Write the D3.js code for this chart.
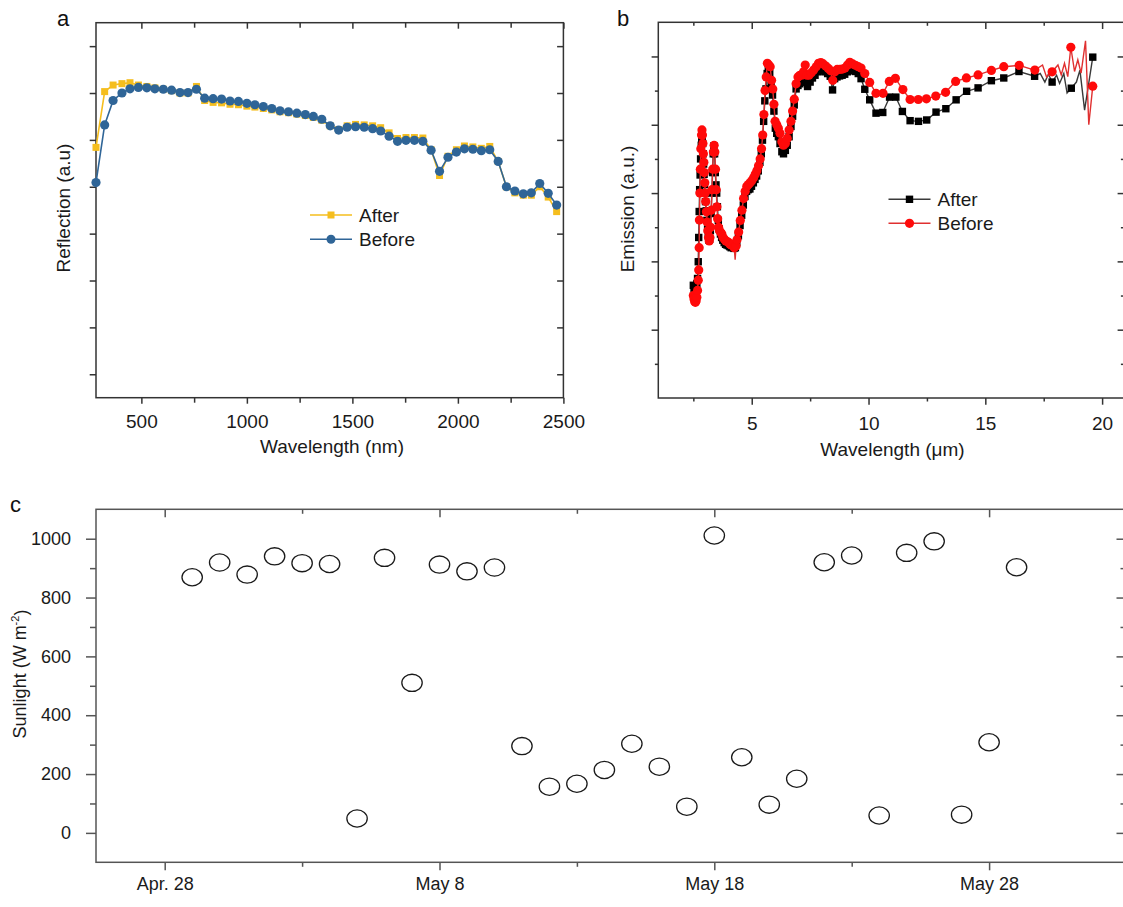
<!DOCTYPE html>
<html>
<head>
<meta charset="utf-8">
<script src="https://cdn.jsdelivr.net/npm/d3@7"></script>
<style>
  body { margin: 0; background: #fff; }
</style>
</head>
<body>
<svg id="fig" width="1123" height="907"></svg>
<script>
// ---- panel a : reflection ----
const reflWl = [285, 326, 366, 408, 446, 486, 526, 564, 604, 643, 683, 721, 761, 800, 840, 880, 920, 960, 1000, 1038,
  1078, 1118, 1157, 1197, 1237, 1277, 1315, 1355, 1395, 1435, 1475, 1515, 1556, 1596, 1634, 1674, 1714, 1754, 1794, 1834,
  1873, 1913, 1953, 1993, 2031, 2071, 2111, 2151, 2191, 2230, 2270, 2310, 2348, 2388, 2428, 2468];
const reflBefore = [45.9, 58.2, 63.4, 65.0, 65.9, 66.2, 66.1, 65.9, 65.8, 65.6, 65.1, 65.1, 65.8, 63.9, 63.8, 63.7, 63.3, 63.2, 62.8, 62.5,
  62.1, 61.7, 61.2, 61.0, 60.7, 60.4, 60.0, 59.4, 58.0, 57.1, 57.7, 57.8, 57.7, 57.4, 56.9, 55.8, 54.7, 54.9, 54.9, 54.7,
  52.8, 48.3, 51.3, 52.4, 53.1, 53.0, 52.7, 52.9, 50.4, 45.0, 44.1, 43.5, 43.7, 45.7, 43.6, 41.1];
const reflAfter = [53.4, 65.3, 66.7, 67.0, 67.2, 66.7, 66.4, 66.1, 65.8, 65.5, 65.0, 65.0, 66.4, 63.4, 63.0, 62.9, 62.6, 62.5, 62.2, 62.0,
  61.7, 61.4, 61.0, 60.8, 60.5, 60.2, 59.8, 59.2, 58.0, 57.2, 58.0, 58.3, 58.2, 58.0, 57.6, 56.5, 55.3, 55.5, 55.5, 55.4,
  52.9, 47.4, 51.5, 52.9, 53.7, 53.5, 53.2, 53.6, 50.4, 45.0, 43.7, 43.2, 43.2, 45.0, 42.8, 39.7];
const reflXTicks = [500, 1000, 1500, 2000, 2500];
const reflXMinor = [750, 1250, 1750, 2250];
const reflYTicks = [5, 15, 25, 35, 45, 55, 65, 75];

// ---- panel b : emission, [wavelength um, value] ----
const emisBefore = [[2.50,0.300],[2.53,0.290],[2.56,0.282],[2.59,0.280],[2.62,0.285],[2.65,0.295],[2.68,0.315],[2.71,0.345],
  [2.73,0.375],[2.75,0.440],[2.76,0.521],[2.78,0.600],[2.80,0.670],[2.82,0.730],[2.85,0.770],[2.87,0.785],[2.89,0.770],
  [2.91,0.745],[2.93,0.715],[2.95,0.690],[2.97,0.660],[2.99,0.630],[3.01,0.600],[3.03,0.575],[3.06,0.545],[3.09,0.515],
  [3.12,0.490],[3.15,0.470],[3.18,0.460],[3.21,0.470],[3.24,0.500],[3.27,0.550],[3.30,0.610],[3.33,0.670],[3.36,0.720],
  [3.39,0.740],[3.42,0.720],[3.45,0.670],[3.48,0.610],[3.51,0.560],[3.54,0.525],[3.58,0.500],[3.62,0.490],[3.67,0.485],
  [3.72,0.480],[3.77,0.470],[3.83,0.465],[3.89,0.460],[3.95,0.458],[4.01,0.455],[4.07,0.450],[4.13,0.448],[4.19,0.450],
  [4.25,0.440],[4.33,0.445],[4.37,0.463],[4.44,0.486],[4.51,0.520],[4.58,0.550],[4.65,0.584],[4.72,0.605],[4.79,0.620],
  [4.86,0.625],[4.93,0.630],[5.00,0.636],[5.08,0.645],[5.15,0.655],[5.22,0.665],[5.29,0.680],[5.36,0.700],[5.42,0.730],
  [5.47,0.770],[5.52,0.830],[5.57,0.900],[5.62,0.940],[5.67,0.980],[5.73,0.975],[5.79,0.970],[5.85,0.930],[5.90,0.905],
  [5.95,0.860],[6.00,0.810],[6.07,0.800],[6.14,0.790],[6.21,0.775],[6.29,0.750],[6.36,0.740],[6.44,0.745],[6.52,0.760],
  [6.60,0.785],[6.68,0.810],[6.75,0.840],[6.82,0.875],[6.90,0.920],[6.98,0.940],[7.06,0.945],[7.14,0.945],[7.22,0.955],
  [7.29,0.975],[7.36,0.945],[7.45,0.945],[7.55,0.952],[7.65,0.960],[7.76,0.970],[7.86,0.980],[7.96,0.982],[8.06,0.978],
  [8.17,0.972],[8.28,0.965],[8.38,0.958],[8.47,0.930],[8.56,0.955],[8.66,0.962],[8.77,0.962],[8.88,0.963],[8.99,0.966],
  [9.10,0.975],[9.20,0.983],[9.32,0.978],[9.44,0.974],[9.56,0.970],[9.68,0.966],[9.84,0.950],[10.05,0.924],[10.32,0.892],
  [10.62,0.892],[10.89,0.927],[11.15,0.936],[11.47,0.903],[11.78,0.874],[12.13,0.874],[12.48,0.876],[12.88,0.884],
  [13.30,0.895],[13.73,0.927],[14.19,0.937],[14.69,0.946],[15.26,0.959],[15.79,0.970],[16.45,0.974],[17.12,0.960],
  [17.86,0.955],[18.66,1.027],[19.60,0.913]];
// points of the Before trace that carry no marker
const emisBeforeLine = [[4.29,0.405],[17.45,0.975],[17.62,0.940],[18.11,0.975],[18.25,0.946],[18.39,0.980],[18.53,0.941],
  [18.82,0.956],[18.96,0.990],[19.10,0.951],[19.29,1.046],[19.43,0.800]];

const emisAfter = [[2.50,0.330],[2.53,0.320],[2.56,0.315],[2.59,0.318],[2.62,0.325],[2.65,0.335],[2.68,0.350],[2.71,0.399],
  [2.73,0.470],[2.75,0.546],[2.77,0.610],[2.79,0.653],[2.81,0.700],[2.84,0.740],[2.86,0.760],[2.88,0.765],[2.90,0.745],
  [2.92,0.715],[2.94,0.685],[2.96,0.655],[2.98,0.625],[3.00,0.600],[3.02,0.575],[3.05,0.548],[3.08,0.520],[3.11,0.495],
  [3.14,0.475],[3.17,0.462],[3.20,0.465],[3.23,0.490],[3.26,0.540],[3.29,0.600],[3.32,0.660],[3.35,0.715],[3.38,0.738],
  [3.41,0.715],[3.44,0.660],[3.47,0.624],[3.50,0.600],[3.53,0.560],[3.57,0.520],[3.61,0.495],[3.66,0.480],[3.71,0.470],
  [3.76,0.462],[3.82,0.455],[3.88,0.450],[3.94,0.448],[4.00,0.446],[4.06,0.443],[4.12,0.440],[4.18,0.442],[4.24,0.438],
  [4.30,0.440],[4.36,0.455],[4.43,0.475],[4.50,0.505],[4.57,0.535],[4.64,0.565],[4.71,0.590],[4.78,0.605],[4.85,0.610],
  [4.92,0.612],[4.99,0.620],[5.07,0.630],[5.14,0.640],[5.21,0.650],[5.28,0.665],[5.35,0.690],[5.41,0.715],[5.46,0.755],
  [5.51,0.810],[5.56,0.870],[5.61,0.905],[5.66,0.950],[5.71,0.960],[5.77,0.950],[5.83,0.915],[5.89,0.887],[5.95,0.840],
  [6.01,0.790],[6.07,0.775],[6.14,0.765],[6.21,0.745],[6.29,0.721],[6.36,0.715],[6.44,0.725],[6.52,0.740],[6.60,0.765],
  [6.68,0.795],[6.75,0.825],[6.82,0.858],[6.90,0.905],[6.98,0.915],[7.06,0.920],[7.14,0.925],[7.22,0.932],[7.30,0.925],
  [7.39,0.912],[7.50,0.925],[7.60,0.937],[7.71,0.945],[7.82,0.955],[7.92,0.958],[8.03,0.958],[8.14,0.955],[8.25,0.950],
  [8.36,0.942],[8.46,0.902],[8.55,0.935],[8.65,0.940],[8.76,0.943],[8.87,0.945],[8.98,0.948],[9.09,0.955],[9.20,0.960],
  [9.32,0.958],[9.44,0.956],[9.56,0.950],[9.68,0.935],[9.84,0.904],[10.05,0.873],[10.32,0.834],[10.61,0.836],[10.90,0.881],
  [11.17,0.881],[11.45,0.839],[11.78,0.812],[12.14,0.810],[12.49,0.814],[12.89,0.837],[13.31,0.847],[13.75,0.873],
  [14.20,0.898],[14.69,0.908],[15.26,0.929],[15.79,0.937],[16.44,0.956],[17.11,0.942],[17.86,0.925],[18.68,0.907],
  [19.60,0.998]];
const emisAfterLine = [[17.35,0.950],[17.55,0.925],[17.70,0.948],[18.05,0.945],[18.18,0.921],[18.36,0.950],[18.50,0.893],
  [18.90,0.925],[19.05,0.960],[19.25,0.843]];
const emisXTicks = [5, 10, 15, 20];
const emisXMinor = [2.5, 7.5, 12.5, 17.5];
const emisYTicks = [0.2, 0.4, 0.6, 0.8, 1.0];
const emisYMinor = [0.1, 0.3, 0.5, 0.7, 0.9];

// ---- panel c : sunlight, day counted from Apr. 28 ----
const sunDay = [1, 2, 3, 4, 5, 6, 7, 8, 9, 10, 11, 12, 13, 14, 15, 16, 17, 18, 19, 20, 21, 22, 23, 24, 25, 26, 27, 28, 29, 30, 31];
const sunValue = [869, 919, 878, 940, 917, 914, 49, 935, 510, 912, 889, 902, 295, 157, 167, 214, 303, 225, 89, 1011,
  257, 96, 184, 920, 943, 59, 952, 991, 62, 308, 903];
const sunXTicks = [0, 10, 20, 30];
const sunXLabels = ["Apr. 28", "May 8", "May 18", "May 28"];
const sunXMinor = [5, 15, 25];
const sunYTicks = [0, 200, 400, 600, 800, 1000];
const sunYMinor = [100, 300, 500, 700, 900];

const font = '"Liberation Sans", Arial, Helvetica, sans-serif';
const svg = d3.select("#fig");
svg.append("rect").attr("width", 1123).attr("height", 907).attr("fill", "#fff");

function frame(g, x, y, c) {
  const [x0, x1] = x.range(), [y0, y1] = y.range();
  const add = (axis, tx, ty) => g.append("g")
    .attr("transform", `translate(${tx},${ty})`)
    .call(axis)
    .call(s => s.select(".domain").remove())
    .call(s => s.selectAll("line").attr("stroke", c.color).attr("stroke-width", c.sw))
    .call(s => s.selectAll("text").attr("font-size", c.fs).attr("font-family", font).attr("fill", "#1a1a1a"));

  add(d3.axisBottom(x).tickValues(c.xMajor).tickSize(c.xMaj).tickPadding(c.xPad).tickFormat(c.xFmt), 0, y0);
  add(d3.axisTop(x).tickValues(c.xMajor).tickSize(-c.xMaj).tickFormat(""), 0, y1);
  if (c.xMinor) {
    add(d3.axisBottom(x).tickValues(c.xMinor).tickSize(c.xMin).tickFormat(""), 0, y0);
    add(d3.axisTop(x).tickValues(c.xMinor).tickSize(-c.xMin).tickFormat(""), 0, y1);
  }
  add(d3.axisLeft(y).tickValues(c.yMajor).tickSize(c.yMaj).tickPadding(c.yPad).tickFormat(c.yFmt), x0, 0);
  add(d3.axisRight(y).tickValues(c.yMajor).tickSize(-c.yMaj).tickFormat(""), x1, 0);
  if (c.yMinor) {
    add(d3.axisLeft(y).tickValues(c.yMinor).tickSize(c.yMin).tickFormat(""), x0, 0);
    add(d3.axisRight(y).tickValues(c.yMinor).tickSize(-c.yMin).tickFormat(""), x1, 0);
  }
  g.append("rect")
    .attr("x", x0).attr("y", y1)
    .attr("width", x1 - x0).attr("height", y0 - y1)
    .attr("fill", "none").attr("stroke", c.color).attr("stroke-width", c.sw);
}

function label(g, txt, x, y, size, rot) {
  return g.append("text")
    .attr("transform", `translate(${x},${y})` + (rot ? " rotate(-90)" : ""))
    .attr("text-anchor", "middle").attr("dy", "0.35em")
    .attr("font-family", font).attr("font-size", size).attr("fill", "#1a1a1a")
    .text(txt);
}

function squares(g, pts, size, color) {
  g.append("g").selectAll("rect").data(pts).join("rect")
    .attr("x", d => d[0] - size / 2).attr("y", d => d[1] - size / 2)
    .attr("width", size).attr("height", size).attr("fill", color);
}
function dots(g, pts, r, color) {
  g.append("g").selectAll("circle").data(pts).join("circle")
    .attr("cx", d => d[0]).attr("cy", d => d[1]).attr("r", r).attr("fill", color);
}

function legend(g, x, y, items) {
  items.forEach((it, i) => {
    const yy = y + i * it.gap;
    g.append("line").attr("x1", x).attr("x2", x + 42).attr("y1", yy).attr("y2", yy)
      .attr("stroke", it.line).attr("stroke-width", 1.6);
    if (it.shape === "sq") squares(g, [[x + 21, yy]], it.size, it.color);
    else dots(g, [[x + 21, yy]], it.size / 2, it.color);
    g.append("text").attr("x", x + 49).attr("y", yy).attr("dy", "0.36em")
      .attr("font-family", font).attr("font-size", 19).attr("fill", "#1a1a1a").text(it.name);
  });
}

// ================= panel a =================
{
  const g = svg.append("g");
  const x = d3.scaleLinear().domain([285, 2500]).range([96, 563.4]);
  const y = d3.scaleLinear().domain([0, 80]).range([397.7, 22.7]);
  frame(g, x, y, {
    color: "#333", sw: 1.5, fs: 19,
    xMajor: reflXTicks, xMinor: reflXMinor, xMaj: 6, xMin: 5, xPad: 10.5, xFmt: d3.format("d"),
    yMajor: reflYTicks, yMaj: 6.3, yPad: 3, yFmt: ""
  });
  const line = d3.line().x(d => x(d[0])).y(d => y(d[1]));
  const after = reflWl.map((w, i) => [w, reflAfter[i]]);
  const before = reflWl.map((w, i) => [w, reflBefore[i]]);
  g.append("path").attr("d", line(after)).attr("fill", "none").attr("stroke", "#f5be1e").attr("stroke-width", 1.6);
  squares(g, after.map(d => [x(d[0]), y(d[1])]), 7, "#f5be1e");
  g.append("path").attr("d", line(before)).attr("fill", "none").attr("stroke", "#2f6597").attr("stroke-width", 1.6);
  dots(g, before.map(d => [x(d[0]), y(d[1])]), 4.6, "#2f6597");

  legend(g, 310, 215, [
    { name: "After", line: "#f5be1e", color: "#f5be1e", shape: "sq", size: 7, gap: 24.3 },
    { name: "Before", line: "#2f6597", color: "#2f6597", shape: "dot", size: 9, gap: 24.3 }
  ]);
  label(g, "Reflection (a.u)", 63, 208, 19, true);
  label(g, "Wavelength (nm)", 332, 446, 19, false);
  g.append("text").attr("x", 57).attr("y", 26).attr("font-family", font).attr("font-size", 22).attr("fill", "#111").text("a");
}

// ================= panel b =================
{
  const g = svg.append("g");
  const x = d3.scaleLinear().domain([1, 20.95]).range([658.3, 1124.3]);
  const y = d3.scaleLinear().domain([0, 1.1]).range([398, 22.3]);
  frame(g, x, y, {
    color: "#333", sw: 1.5, fs: 19,
    xMajor: emisXTicks, xMinor: emisXMinor, xMaj: 6.7, xMin: 3.5, xPad: 11.5, xFmt: d3.format("d"),
    yMajor: emisYTicks, yMinor: emisYMinor, yMaj: 6.7, yMin: 3.4, yPad: 3, yFmt: ""
  });
  const line = d3.line().x(d => x(d[0])).y(d => y(d[1]));
  const byX = (a, b) => a[0] - b[0];
  g.append("path").attr("d", line(emisAfter.concat(emisAfterLine).sort(byX)))
    .attr("fill", "none").attr("stroke", "#3a3a3a").attr("stroke-width", 1.4);
  squares(g, emisAfter.map(d => [x(d[0]), y(d[1])]), 7.4, "#000");
  g.append("path").attr("d", line(emisBefore.concat(emisBeforeLine).sort(byX)))
    .attr("fill", "none").attr("stroke", "#e03030").attr("stroke-width", 1.4);
  dots(g, emisBefore.map(d => [x(d[0]), y(d[1])]), 4.6, "#ff0a0a");

  legend(g, 888.5, 199.3, [
    { name: "After", line: "#3a3a3a", color: "#000", shape: "sq", size: 7.4, gap: 24 },
    { name: "Before", line: "#e03030", color: "#ff0a0a", shape: "dot", size: 9.2, gap: 24 }
  ]);
  label(g, "Emission (a.u.)", 627, 209, 19, true);
  label(g, "Wavelength (\u03bcm)", 892.5, 449, 19, false);
  g.append("text").attr("x", 617).attr("y", 26).attr("font-family", font).attr("font-size", 22).attr("fill", "#111").text("b");
}

// ================= panel c =================
{
  const g = svg.append("g");
  const x = d3.scaleLinear().domain([-2.5, 35]).range([96, 1126.5]);
  const y = d3.scaleLinear().domain([-100, 1100]).range([862.3, 509.3]);
  frame(g, x, y, {
    color: "#555", sw: 1.5, fs: 18,
    xMajor: sunXTicks, xMinor: sunXMinor, xMaj: 8, xMin: 4.5, xPad: 7, xFmt: (d, i) => sunXLabels[i],
    yMajor: sunYTicks, yMinor: sunYMinor, yMaj: 10, yMin: 6, yPad: 15, yFmt: d3.format("d")
  });
  g.append("g").selectAll("ellipse").data(sunDay).join("ellipse")
    .attr("cx", (d, i) => x(d)).attr("cy", (d, i) => y(sunValue[i]))
    .attr("rx", 10.2).attr("ry", 8.6)
    .attr("fill", "none").attr("stroke", "#1a1a1a").attr("stroke-width", 1.3);

  const t = g.append("text")
    .attr("transform", "translate(20,674) rotate(-90)")
    .attr("text-anchor", "middle").attr("dy", "0.35em")
    .attr("font-family", font).attr("font-size", 18).attr("fill", "#1a1a1a");
  t.append("tspan").text("Sunlight (W m");
  t.append("tspan").attr("font-size", 11).attr("dy", "-0.7em").text("-2");
  t.append("tspan").attr("dy", "0.45em").text(")");
  g.append("text").attr("x", 10).attr("y", 512).attr("font-family", font).attr("font-size", 22).attr("fill", "#111").text("c");
}
</script>
</body>
</html>
